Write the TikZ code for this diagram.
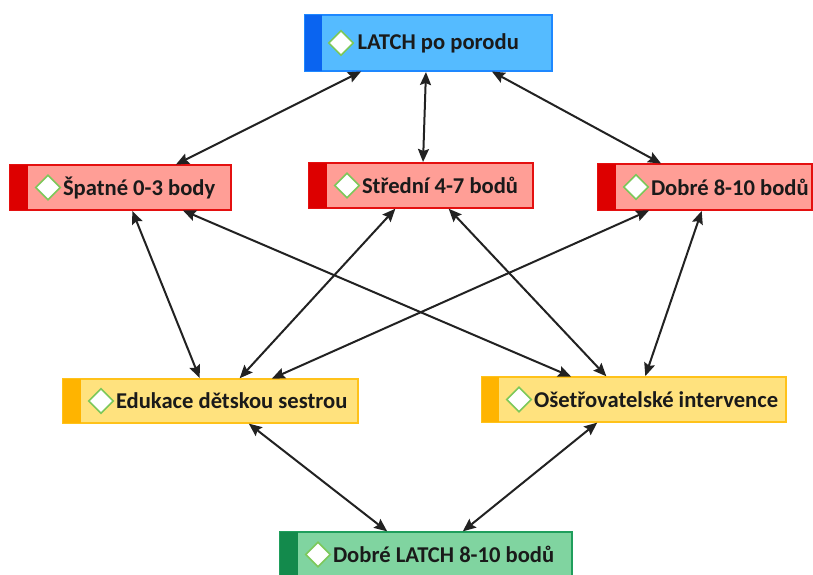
\documentclass[tikz,border=0pt]{standalone}
\usepackage{fontspec}
\setmainfont{Carlito}
\usetikzlibrary{shapes.geometric,arrows.meta}
\definecolor{bfill}{HTML}{55BBFF}
\definecolor{bline}{HTML}{1E88FF}
\definecolor{bstrip}{HTML}{0A64F0}
\definecolor{rfill}{HTML}{FF9E96}
\definecolor{rline}{HTML}{E41010}
\definecolor{rstrip}{HTML}{DD0000}
\definecolor{yfill}{HTML}{FFE27E}
\definecolor{yline}{HTML}{FFC21A}
\definecolor{ystrip}{HTML}{FFB400}
\definecolor{gfill}{HTML}{80D4A0}
\definecolor{gline}{HTML}{1F9E5C}
\definecolor{gstrip}{HTML}{138A4C}
\definecolor{dline}{HTML}{7CC85A}
\definecolor{txt}{HTML}{1A1A1A}
\definecolor{arr}{HTML}{222222}
\begin{document}
\begin{tikzpicture}[x=1pt,y=-1pt,
  box/.style={rectangle,inner sep=0pt,outer sep=0pt,line width=1.5pt,anchor=north west},
  dia/.style={diamond,draw=dline,fill=white,line width=1.6pt,inner sep=0pt,minimum width=25pt,minimum height=25pt},
  lbl/.style={anchor=west,inner sep=0pt,text=txt,font=\fontsize{22.6}{26}\selectfont\bfseries},
  conn/.style={draw=arr,line width=2pt,{Stealth[length=13pt,width=11pt,inset=2pt]}-{Stealth[length=13pt,width=11pt,inset=2pt]},shorten <=1pt,shorten >=1pt}]
\useasboundingbox (0,0) rectangle (813,574);
\fill[white] (0,0) rectangle (813,574);
% boxes
\node[box,fill=bfill,draw=bline,minimum width=247pt,minimum height=56pt] (top) at (305,15) {};
\fill[bstrip] (top.north west) rectangle ([xshift=17pt]top.south west);
\node[dia] (topd) at ([xshift=36pt]top.west) {};
\node[lbl] at ([xshift=3pt]topd.east) {LATCH po porodu};

\node[box,fill=rfill,draw=rline,minimum width=221pt,minimum height=45pt] (spat) at (10,165) {};
\fill[rstrip] (spat.north west) rectangle ([xshift=18pt]spat.south west);
\node[dia] (spatd) at ([xshift=38pt]spat.west) {};
\node[lbl] at ([xshift=1.5pt]spatd.east) {Špatné 0-3 body};

\node[box,fill=rfill,draw=rline,minimum width=224pt,minimum height=45pt] (sred) at (309,163) {};
\fill[rstrip] (sred.north west) rectangle ([xshift=18pt]sred.south west);
\node[dia] (sredd) at ([xshift=38pt]sred.west) {};
\node[lbl] at ([xshift=1.5pt]sredd.east) {Střední 4-7 bodů};

\node[box,fill=rfill,draw=rline,minimum width=214pt,minimum height=46pt] (dobr) at (598,164) {};
\fill[rstrip] (dobr.north west) rectangle ([xshift=18pt]dobr.south west);
\node[dia] (dobrd) at ([xshift=38pt]dobr.west) {};
\node[lbl] at ([xshift=1.5pt]dobrd.east) {Dobré 8-10 bodů};

\node[box,fill=yfill,draw=yline,minimum width=295pt,minimum height=44pt] (eduk) at (63,379) {};
\fill[ystrip] (eduk.north west) rectangle ([xshift=18pt]eduk.south west);
\node[dia] (edukd) at ([xshift=38pt]eduk.west) {};
\node[lbl] at ([xshift=1.5pt]edukd.east) {Edukace dětskou sestrou};

\node[box,fill=yfill,draw=yline,minimum width=304pt,minimum height=45pt] (oset) at (482,377) {};
\fill[ystrip] (oset.north west) rectangle ([xshift=17pt]oset.south west);
\node[dia] (osetd) at ([xshift=37pt]oset.west) {};
\node[lbl] at ([xshift=1.5pt]osetd.east) {Ošetřovatelské intervence};

\node[box,fill=gfill,draw=gline,minimum width=292pt,minimum height=45pt] (gree) at (280,532) {};
\fill[gstrip] (gree.north west) rectangle ([xshift=18pt]gree.south west);
\node[dia] (greed) at ([xshift=38pt]gree.west) {};
\node[lbl] at ([xshift=1.5pt]greed.east) {Dobré LATCH 8-10 bodů};

% connectors
\draw[conn] ([xshift=57pt]top.south west) -- ([xshift=165pt]spat.north west);
\draw[conn] ([xshift=121pt]top.south west) -- ([xshift=114pt]sred.north west);
\draw[conn] ([xshift=186pt]top.south west) -- ([xshift=64pt]dobr.north west);
\draw[conn] ([xshift=122pt]spat.south west) -- ([xshift=137pt]eduk.north west);
\draw[conn] ([xshift=172pt]spat.south west) -- ([xshift=90pt]oset.north west);
\draw[conn] ([xshift=87pt]sred.south west) -- ([xshift=176pt]eduk.north west);
\draw[conn] ([xshift=139pt]sred.south west) -- ([xshift=125pt]oset.north west);
\draw[conn] ([xshift=52pt]dobr.south west) -- ([xshift=208pt]eduk.north west);
\draw[conn] ([xshift=104pt]dobr.south west) -- ([xshift=163pt]oset.north west);
\draw[conn] ([xshift=185pt]eduk.south west) -- ([xshift=108pt]gree.north west);
\draw[conn] ([xshift=116pt]oset.south west) -- ([xshift=182pt]gree.north west);
\end{tikzpicture}
\end{document}
